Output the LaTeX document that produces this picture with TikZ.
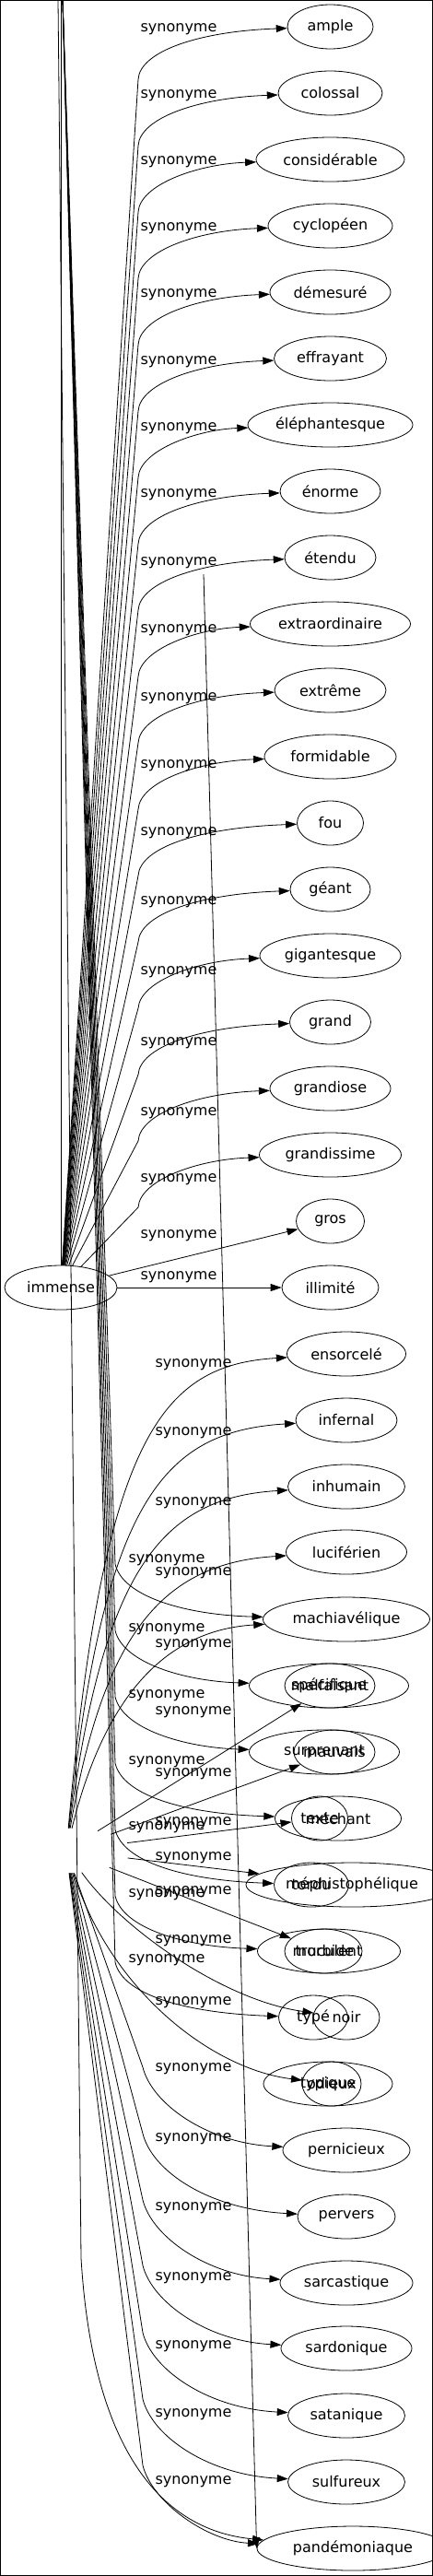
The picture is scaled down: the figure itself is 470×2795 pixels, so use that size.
\documentclass[tikz,border=0pt]{standalone}
\usepackage{fontspec}
\setmainfont{DejaVu Sans}
\usetikzlibrary{arrows.meta, shapes.geometric}

\begin{document}
\begin{tikzpicture}[->, >={Triangle[length=12pt,width=8pt]}, x=1pt, y=-1pt, line width=0.8pt,
    syn/.style={draw, ellipse, inner sep=0pt, minimum height=48pt, font=\fontsize{16}{19}\selectfont},
    tight/.style={inner xsep=-15pt},
    lbl/.style={inner sep=0pt, font=\fontsize{16}{19}\selectfont}]
  \useasboundingbox (0,0) rectangle (470,2795);
  \draw[-, line width=1.4pt] (0.5,0.5) rectangle (469.5,2794.5);

  % free ends at the top border
  \coordinate (src) at (68,0);
  \coordinate (srcb) at (63,0);
  \coordinate (srcc) at (66,0);
  \coordinate (stray) at (221,623);

  \node[syn, minimum width=122pt] (immense) at (66,1397) {immense};
  \node[ellipse, inner sep=0pt, minimum width=140pt, minimum height=48pt] (hub) at (72,2008) {};

  % upper synonyms
  \foreach \n/\t/\w/\d [count=\i from 0] in {ample/ample/93/3, colossal/colossal/113/3,
      consid/considérable/161/3, cyclo/cyclopéen/135/3, demesure/démesuré/131/3,
      effrayant/effrayant/122/4, elephant/éléphantesque/179/4, enorme/énorme/109/4,
      etendu/étendu/99/6, extraord/extraordinaire/174/7, extreme/extrême/121/9,
      formidable/formidable/143/10, fou/fou/72/11, geant/géant/87/14,
      gigant/gigantesque/153/18, grand/grand/88/23, grandiose/grandiose/131/27,
      grandiss/grandissime/154/27} {
    \pgfmathsetmacro\y{29+72*\i}
    \node[syn, minimum width=\w pt] (\n) at (358.5,\y) {\t};
    \draw (immense) -- (150,\y+57) .. controls (152,\y+27) and (215,\y+5) .. (\n);
    \node[lbl] (l\n) at (194,\y+\d) {synonyme};
  }
  \node[syn, minimum width=74pt] (gros) at (358.5,1325) {gros};
  \node[syn, minimum width=105pt] (illimite) at (358.5,1397) {illimité};
  \draw (immense) -- (gros);
  \draw (immense) -- (illimite);
  \node[lbl] (lgros) at (194,1341) {synonyme};
  \node[lbl] (lillimite) at (194,1386) {synonyme};

  % lower synonyms
  \foreach \n/\t/\w/\y in {ensorcele/ensorcelé/129/1469, infernal/infernal/110/1541,
      inhumain/inhumain/127/1613, luciferien/luciférien/131/1684,
      machiav/machiavélique/181/1757, pernicieux/pernicieux/138/2333,
      pervers/pervers/106/2405, sarcast/sarcastique/144/2477,
      sardon/sardonique/142/2548, satan/satanique/127/2621,
      sulfureux/sulfureux/127/2693}
    \node[syn, minimum width=\w pt] (\n) at (376,\y) {\t};
  \node[syn, minimum width=208pt] (pand) at (383,2765) {pandémoniaque};

  \node[syn, minimum width=173pt] (specifique) at (357,1829) {spécifique};
  \node[syn, tight, minimum width=98pt] (malfaisant) at (358,1829) {malfaisant};
  \node[syn, minimum width=163pt] (surpren) at (352,1901) {surprenant};
  \node[syn, tight, minimum width=88pt] (mauvais) at (363,1901) {mauvais};
  \node[syn, minimum width=137pt] (mechant) at (367,1973) {méchant};
  \node[syn, minimum width=61pt] (texte) at (347,1973) {texte};
  \node[syn, minimum width=230pt] (mephisto) at (382,2045) {méphistophélique};
  \node[syn, minimum width=81pt] (tordu) at (338,2045) {tordu};
  \node[syn, minimum width=155pt] (trucul) at (357,2117) {truculent};
  \node[syn, tight, minimum width=84pt] (morbide) at (351,2117) {morbide};
  \node[syn, minimum width=75pt] (type) at (340,2189) {typé};
  \node[syn, minimum width=72pt] (noir) at (376,2189) {noir};
  \node[syn, minimum width=140pt] (typique) at (356,2261) {typique};
  \node[syn, tight, minimum width=64pt] (odieux) at (360,2261) {odieux};

  % from the hub
  \foreach \n/\y/\l in {ensorcele/1469/1481, infernal/1541/1555, inhumain/1613/1631,
      luciferien/1684/1707, machiav/1757/1785} {
    \draw (hub) .. controls (112,\y+90) and (175,\y+12) .. (\n);
    \node[lbl] (la\n) at (210,\l) {synonyme};
  }
  \foreach \n/\l in {malfaisant/1858, mauvais/1925, texte/1978, mephisto/2016, morbide/2053} {
    \draw (hub) -- (\n);
    \node[lbl] (la\n) at (210,\l) {synonyme};
  }
  \draw (hub) .. controls (130,2090) and (240,2170) .. (noir);
  \node[lbl] (lanoir) at (210,2106) {synonyme};
  \draw (hub) .. controls (120,2160) and (230,2245) .. (odieux);
  \node[lbl] (laodieux) at (210,2173) {synonyme};
  \foreach \n/\y/\l in {pernicieux/2333/2245, pervers/2405/2321, sarcast/2477/2396,
      sardon/2548/2472, satan/2621/2546, sulfureux/2693/2620, pand/2765/2693} {
    \draw (hub) -- (155,\y-90) .. controls (165,\y-50) and (225,\y-8) .. (\n);
    \node[lbl] (la\n) at (210,\l) {synonyme};
  }

  % from the top border
  \foreach \n/\y/\l in {machiav/1757/1693, specifique/1829/1768, surpren/1901/1840,
      mechant/1973/1912, tordu/2045/1983, trucul/2117/2056, type/2189/2127} {
    \draw (src) -- (125,\y-60) .. controls (133,\y-25) and (200,\y-5) .. (\n);
    \node[lbl] (lb\n) at (181,\l) {synonyme};
  }
  \draw (srcb) -- (88,2450) .. controls (100,2650) and (170,2745) .. (pand);
  \draw[-] (srcc) -- (immense);
  \draw (stray) -- (pand.west);
\end{tikzpicture}
\end{document}
